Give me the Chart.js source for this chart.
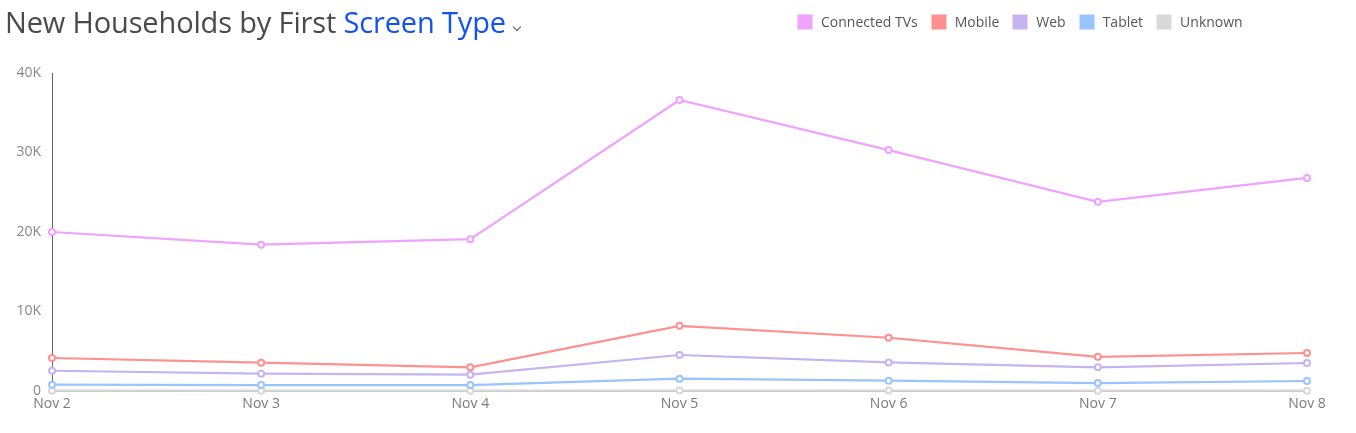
<!DOCTYPE html>
<html>
<head>
<meta charset="utf-8">
<script src="https://cdn.jsdelivr.net/npm/chart.js@4"></script>
<style>
  html, body { margin: 0; padding: 0; background: #fff; }
  body { width: 1356px; height: 433px; position: relative; overflow: hidden; font-family: "Open Sans", sans-serif; }
  #title { position: absolute; left: 5px; top: 2px; font-size: 29px; color: #4a4a4a; white-space: nowrap; letter-spacing: -0.15px; }
  #title .pick { color: #1451f5; }
  #title .chev { display: inline-block; width: 5px; height: 5px; border-right: 1px solid #555; border-bottom: 1px solid #555; transform: rotate(45deg); margin-left: 8px; position: relative; top: -3px; }
  #legend { position: absolute; left: 797px; top: 12px; display: flex; font-size: 14px; color: #555; }
  #legend .item { display: flex; align-items: center; margin-right: 13px; }
  #legend .box { width: 14px; height: 14px; margin-right: 8px; border: 1px solid; }
  #wrap { position: absolute; left: 0; top: 0; width: 1356px; height: 433px; }
</style>
</head>
<body>
<div id="wrap"><canvas id="chart"></canvas></div>
<div id="title">New Households by First <span class="pick">Screen Type</span><span class="chev"></span></div>
<div id="legend"></div>
<script>
document.addEventListener('DOMContentLoaded', function () {
  // Days along the X axis
  const days = ['Nov 2', 'Nov 3', 'Nov 4', 'Nov 5', 'Nov 6', 'Nov 7', 'Nov 8'];

  // New households per day, by first screen type
  const connectedTVs = [20000, 18400, 19100, 36600, 30300, 23800, 26800];
  const mobile = [4150, 3560, 2980, 8200, 6700, 4300, 4780];
  const web = [2550, 2180, 2050, 4530, 3600, 2980, 3520];
  const tablet = [800, 750, 750, 1550, 1300, 1000, 1260];
  const unknown = [40, 40, 40, 50, 50, 40, 40];

  const seriesNames = ['Connected TVs', 'Mobile', 'Web', 'Tablet', 'Unknown'];
  const seriesValues = [connectedTVs, mobile, web, tablet, unknown];
  const lineColors = ['#f0a2ff', '#ff9090', '#c5b3f2', '#99c4ff', '#d8d8d8'];
  const boxBorders = ['#f7d0ff', '#ffc8c8', '#e2d9f8', '#cce1ff', '#ececec'];

  // Y tick values
  const yTicks = [0, 10000, 20000, 30000, 40000];

  const datasets = seriesNames.map((name, i) => ({
    label: name,
    data: seriesValues[i],
    borderColor: lineColors[i],
    backgroundColor: '#fff',
    borderWidth: 2.2,
    pointRadius: 3,
    pointBorderWidth: 2,
    pointBackgroundColor: '#fff',
    pointBorderColor: lineColors[i],
    tension: 0,
    fill: false,
    clip: false
  }));

  // legend drawn as html so it can sit beside the title
  const legendEl = document.getElementById('legend');
  seriesNames.forEach((name, i) => {
    const item = document.createElement('div');
    item.className = 'item';
    const box = document.createElement('span');
    box.className = 'box';
    box.style.background = lineColors[i];
    box.style.borderColor = boxBorders[i];
    const txt = document.createElement('span');
    txt.textContent = name;
    item.appendChild(box);
    item.appendChild(txt);
    legendEl.appendChild(item);
  });

  const ctx = document.getElementById('chart').getContext('2d');
  new Chart(ctx, {
    type: 'line',
    data: { labels: days, datasets },
    options: {
      responsive: true,
      maintainAspectRatio: false,
      animation: false,
      layout: { padding: { top: 73, right: 49, bottom: 0, left: 0 } },
      plugins: { legend: { display: false }, tooltip: { enabled: false } },
      scales: {
        x: {
          offset: false,
          grid: { display: false },
          border: { display: true, color: '#a8a8a8', width: 2 },
          ticks: { color: '#7a7a7a', font: { family: 'Open Sans', size: 14 }, padding: -3, maxRotation: 0 },
          afterFit: (scale) => { scale.height = 42; }
        },
        y: {
          min: 0,
          max: 40000,
          grid: { display: false },
          border: { display: true, color: '#666', width: 1 },
          afterBuildTicks: (scale) => { scale.ticks = yTicks.map(v => ({ value: v })); },
          ticks: {
            color: '#888',
            font: { family: 'Open Sans', size: 14 },
            padding: 3,
            callback: (v) => v === 0 ? '0' : (v / 1000) + 'K'
          },
          afterFit: (scale) => { scale.width = 52; }
        }
      }
    }
  });
});
</script>
</body>
</html>
